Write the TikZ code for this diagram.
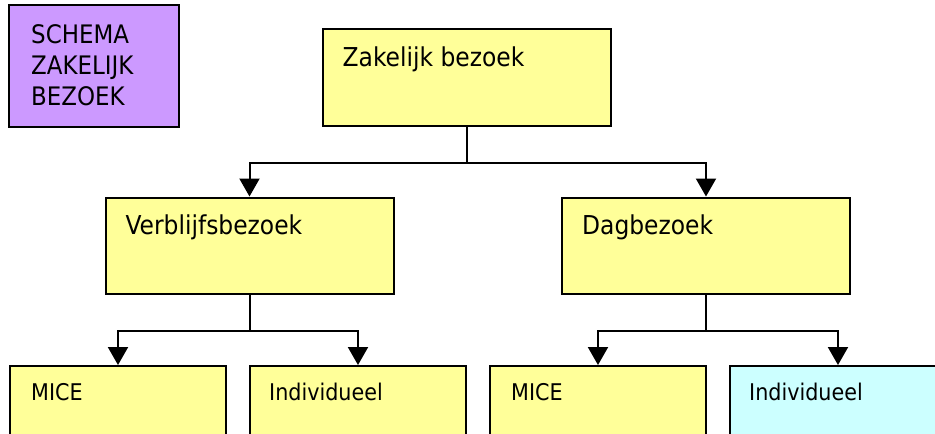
\documentclass[tikz,border=0pt]{standalone}
\usepackage{fontspec}
\setmainfont{DejaVu Sans Condensed}
\usepackage{tikz}
\usetikzlibrary{arrows.meta,calc}
\definecolor{boxyellow}{HTML}{FFFF99}
\definecolor{boxpurple}{HTML}{CC99FF}
\definecolor{boxcyan}{HTML}{CCFFFF}
\tikzset{box/.style={draw,line width=2pt,rectangle,inner sep=0pt,fill=boxyellow},
    topbox/.style={box,minimum width=288pt,minimum height=96pt},
    leafbox/.style={box,minimum width=216pt,minimum height=100pt},
    bigtext/.style={anchor=base west,inner sep=0pt,font=\fontsize{26}{31}\selectfont},
    smalltext/.style={anchor=base west,inner sep=0pt,font=\fontsize{23}{31}\selectfont},
    link/.style={draw,line width=2pt,-{Triangle[width=20pt,length=18pt]}}}

\begin{document}
\begin{tikzpicture}[x=1pt,y=-1pt]
    \path[use as bounding box,clip] (0,0) rectangle (935,434);
    \node[box,fill=boxpurple,minimum width=170pt,minimum height=122pt] (schema) at (94,66) {};
    \node[smalltext,font=\fontsize{25.5}{31}\selectfont,align=left] at ($(schema.north west)+(23,101)$)
        {SCHEMA\\ZAKELIJK\\BEZOEK};
    \node[topbox,minimum height=97pt] (zak) at (466.5,77.5) {};
    \node[topbox] (verb) at (249.5,245.5) {};
    \node[topbox] (dag) at (706,245.5) {};
    \node[leafbox] (mice1) at (118,416) {};
    \node[leafbox] (ind1) at (358,416) {};
    \node[leafbox] (mice2) at (598,416) {};
    \node[leafbox,fill=boxcyan] (ind2) at (838,416) {};
    \node[bigtext] at ($(zak.north west)+(21,38)$) {Zakelijk bezoek};
    \node[bigtext] at ($(verb.north west)+(21,38)$) {Verblijfsbezoek};
    \node[bigtext] at ($(dag.north west)+(21,38)$) {Dagbezoek};
    \node[smalltext] at ($(mice1.north west)+(22,35)$) {MICE};
    \node[smalltext] at ($(ind1.north west)+(20,35)$) {Individueel};
    \node[smalltext] at ($(mice2.north west)+(22,35)$) {MICE};
    \node[smalltext] at ($(ind2.north west)+(20,35)$) {Individueel};
    \draw[link] (zak.south) -- ++(0,36) -| (verb.north);
    \draw[link] (zak.south) -- ++(0,36) -| (dag.north);
    \draw[link] (verb.south) -- ++(0,36) -| (mice1.north);
    \draw[link] (verb.south) -- ++(0,36) -| (ind1.north);
    \draw[link] (dag.south) -- ++(0,36) -| (mice2.north);
    \draw[link] (dag.south) -- ++(0,36) -| (ind2.north);
\end{tikzpicture}
\end{document}
